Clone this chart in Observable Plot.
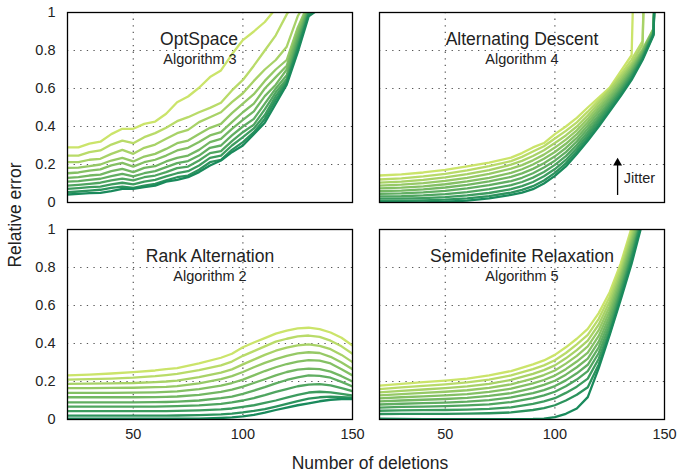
<!DOCTYPE html>
<html>
<head>
<meta charset="utf-8">
<script src="https://cdn.jsdelivr.net/npm/d3@7"></script>
<script src="https://cdn.jsdelivr.net/npm/@observablehq/plot@0.6"></script>
<style>
  html, body { margin: 0; padding: 0; background: #fff; }
  #wrap { position: relative; width: 679px; height: 475px; font-family: "Liberation Sans", Arial, sans-serif; color: #222; }
  .lab { position: absolute; font-size: 17.5px; white-space: nowrap; }
</style>
</head>
<body>
<div id="wrap"></div>
<script>
// ---------------- data ----------------
const jitterLevels = [0, 1, 2, 3, 4, 5, 6, 7, 8, 9, 10];

// OptSpace (Algorithm 3)
const xsOpt = [20,25,30,35,40,45,50,55,60,65,70,75,80,85,90,95,100,105,110,115,120,125,130,135];
const optSpace = [
  [.29,.29,.31,.32,.36,.388,.388,.414,.426,.467,.528,.558,.604,.66,.695,.78,.855,.9,.95,1.02,1.1,1.15,1.2,1.25],
  [.247,.247,.265,.274,.305,.326,.312,.344,.365,.393,.428,.449,.475,.498,.525,.59,.645,.72,.8,.88,.99,1.08,1.12,1.15],
  [.212,.212,.225,.23,.256,.277,.256,.288,.305,.335,.365,.382,.423,.449,.475,.528,.575,.64,.7,.75,.82,.98,1.08,1.12],
  [.182,.184,.191,.2,.221,.235,.216,.242,.256,.282,.312,.326,.361,.393,.414,.47,.52,.57,.64,.7,.75,.92,1.05,1.1],
  [.154,.158,.168,.174,.195,.209,.189,.212,.225,.247,.274,.288,.318,.353,.37,.423,.475,.52,.6,.66,.72,.9,1.04,1.08],
  [.13,.134,.142,.147,.165,.177,.16,.182,.191,.216,.235,.247,.277,.318,.335,.388,.435,.48,.56,.62,.7,.88,1.03,1.07],
  [.11,.113,.119,.125,.139,.151,.137,.154,.165,.186,.207,.218,.247,.288,.3,.353,.4,.44,.52,.6,.67,.86,1.02,1.06],
  [.089,.093,.098,.104,.116,.126,.116,.133,.142,.16,.181,.189,.221,.26,.27,.323,.37,.41,.49,.58,.65,.84,1.01,1.05],
  [.072,.076,.081,.084,.095,.104,.095,.11,.119,.137,.154,.165,.195,.235,.247,.3,.344,.39,.46,.56,.64,.82,1.0,1.04],
  [.054,.058,.063,.067,.077,.084,.077,.089,.098,.116,.133,.142,.172,.212,.225,.277,.318,.37,.44,.54,.63,.81,.99,1.03],
  [.042,.045,.049,.051,.06,.072,.072,.081,.089,.11,.119,.133,.16,.195,.221,.265,.3,.36,.42,.52,.62,.79,.98,1.02]
];

// Alternating Descent (Algorithm 4)
const xsAlt = [20,30,40,50,60,70,80,85,90,95,100,105,110,115,120,125,130,135,140,145,150];
const altDescent = [
  [.142,.148,.158,.172,.19,.21,.236,.26,.29,.313,.36,.4,.445,.5,.552,.605,.69,.775,3,3,3],
  [.121,.127,.137,.151,.169,.191,.218,.24,.268,.296,.337,.377,.422,.478,.538,.597,.673,.752,.85,3,3],
  [.105,.11,.119,.132,.149,.171,.199,.219,.245,.275,.313,.353,.4,.458,.524,.589,.659,.733,.83,3,3],
  [.089,.094,.102,.114,.13,.151,.178,.197,.222,.252,.289,.331,.38,.44,.508,.575,.645,.72,.806,.915,3],
  [.074,.078,.085,.096,.111,.13,.156,.175,.2,.23,.266,.309,.36,.422,.492,.56,.631,.708,.798,.91,3],
  [.06,.063,.069,.079,.093,.111,.135,.153,.177,.207,.243,.287,.34,.405,.476,.546,.618,.697,.79,.905,3],
  [.046,.048,.053,.061,.074,.091,.113,.13,.154,.184,.22,.265,.321,.388,.46,.532,.606,.686,.782,.9,3],
  [.032,.033,.037,.044,.055,.07,.091,.108,.131,.161,.198,.244,.303,.371,.445,.518,.594,.675,.774,.895,3],
  [.02,.02,.023,.028,.037,.05,.07,.086,.108,.138,.176,.224,.286,.355,.43,.505,.583,.665,.766,.89,3],
  [.009,.009,.011,.015,.022,.034,.052,.066,.086,.116,.156,.206,.27,.34,.415,.492,.572,.655,.758,.885,3],
  [0,0,.001,.004,.01,.022,.04,.052,.07,.1,.14,.19,.255,.325,.4,.48,.56,.645,.75,.88,3]
];

// Rank Alternation (Algorithm 2)
const xsRank = [20,30,40,50,60,65,70,80,90,95,100,105,110,115,120,125,130,135,140,145,150];
const rankAlt = [
  [.232,.236,.242,.249,.258,.265,.27,.295,.325,.346,.38,.405,.428,.452,.468,.48,.483,.476,.458,.43,.389],
  [.21,.212,.215,.22,.228,.234,.24,.26,.285,.305,.335,.36,.385,.41,.425,.437,.442,.435,.415,.385,.346],
  [.188,.189,.19,.192,.197,.2,.205,.223,.247,.264,.29,.315,.34,.362,.378,.39,.395,.388,.37,.34,.302],
  [.165,.165,.166,.167,.17,.172,.176,.19,.212,.228,.25,.275,.298,.318,.335,.348,.354,.35,.33,.3,.265],
  [.14,.14,.14,.141,.143,.145,.148,.16,.178,.192,.21,.232,.255,.275,.292,.305,.312,.31,.295,.265,.232],
  [.117,.117,.117,.117,.118,.119,.121,.13,.145,.157,.173,.192,.212,.232,.25,.262,.268,.265,.252,.228,.2],
  [.09,.09,.09,.09,.091,.092,.094,.1,.112,.12,.135,.152,.17,.19,.208,.222,.232,.23,.22,.198,.174],
  [.068,.068,.068,.068,.068,.069,.07,.074,.082,.09,.1,.113,.128,.145,.16,.175,.184,.186,.18,.165,.149],
  [.044,.044,.044,.044,.044,.044,.045,.048,.053,.058,.066,.075,.087,.1,.115,.13,.142,.146,.143,.135,.126],
  [.02,.02,.02,.02,.02,.02,.021,.023,.027,.031,.037,.045,.055,.068,.082,.097,.11,.117,.12,.118,.115],
  [.005,.005,.004,.004,.004,.004,.004,.004,.008,.011,.016,.024,.036,.05,.063,.075,.085,.096,.104,.108,.108]
];

// Semidefinite Relaxation (Algorithm 5)
const xsSdp = [20,30,40,50,60,70,80,90,95,100,105,110,115,120,125,130,135,140];
const sdpRelax = [
  [.178,.188,.197,.205,.215,.232,.255,.29,.311,.34,.38,.425,.477,.56,.67,.82,1.01,1.2],
  [.16,.169,.177,.185,.195,.21,.232,.265,.285,.312,.35,.395,.445,.53,.645,.8,.99,1.18],
  [.143,.151,.158,.165,.174,.188,.208,.24,.26,.285,.322,.365,.415,.5,.62,.78,.97,1.16],
  [.127,.134,.14,.146,.154,.167,.185,.215,.234,.258,.294,.335,.385,.47,.595,.76,.95,1.14],
  [.111,.117,.122,.127,.134,.145,.162,.19,.208,.231,.265,.305,.352,.44,.57,.74,.93,1.12],
  [.095,.1,.104,.108,.114,.124,.139,.165,.182,.204,.236,.275,.32,.41,.545,.72,.91,1.1],
  [.079,.083,.086,.089,.094,.102,.116,.139,.155,.176,.206,.243,.288,.38,.52,.7,.89,1.09],
  [.063,.066,.068,.07,.074,.08,.092,.112,.127,.146,.175,.21,.255,.35,.495,.68,.87,1.08],
  [.046,.048,.049,.05,.052,.056,.064,.082,.095,.112,.14,.173,.215,.32,.47,.665,.855,1.07],
  [.029,.03,.03,.03,.031,.033,.037,.05,.06,.075,.1,.13,.17,.29,.455,.645,.84,1.06],
  [.004,.003,.002,.002,.002,.002,.002,.003,.005,.012,.03,.058,.118,.27,.445,.63,.82,1.04]
];

const titles = ["OptSpace", "Alternating Descent", "Rank Alternation", "Semidefinite Relaxation"];
const subtitles = ["Algorithm 3", "Algorithm 4", "Algorithm 2", "Algorithm 5"];
const cols = ["L", "R", "L", "R"];
const rows = ["T", "T", "B", "B"];

const xTicks = [50, 100, 150];
const yTicks = [0, 0.2, 0.4, 0.6, 0.8, 1];
const xGrid = [50, 100];
const yGrid = [0.2, 0.4, 0.6, 0.8];

// Jitter annotation (in Alternating Descent panel)
const jitterNote = [{col: "R", row: "T", x: 131.4, y: 0.126, text: "Jitter"}];
const jitterArrow = [{col: "R", row: "T", x: 128.6, y1: 0.037, y2: 0.208}];

// ---------------- build table ----------------
const series = [[xsOpt, optSpace], [xsAlt, altDescent], [xsRank, rankAlt], [xsSdp, sdpRelax]];
const table = [];
series.forEach(([xs, lines], p) => {
  lines.forEach((ys, li) => {
    ys.forEach((v, j) => table.push({col: cols[p], row: rows[p], x: xs[j], y: v, level: jitterLevels[li]}));
  });
});
const panelInfo = titles.map((t, i) => ({title: t, sub: subtitles[i], col: cols[i], row: rows[i]}));
const isFirst = d => d.title === titles[0];
const notFirst = d => d.title !== titles[0];

const palette = d3.quantize(d3.interpolateRgb("#cbe46a", "#1a8a5c"), jitterLevels.length);

const titleOpts = {fx: "col", fy: "row", text: "title", frameAnchor: "top", dy: 20, fontSize: 17.5, fill: "#222"};
const subOpts = {fx: "col", fy: "row", text: "sub", frameAnchor: "top", dy: 41, fontSize: 14.5, fill: "#222"};

const chart = Plot.plot({
  width: 679,
  height: 475,
  marginLeft: 67,
  marginRight: 15,
  marginTop: 12,
  marginBottom: 56,
  style: {fontFamily: "Liberation Sans, Arial, sans-serif", fontSize: "14.5px", color: "#222", background: "white"},
  fx: {domain: ["L", "R"], axis: null, paddingInner: 27 / 312, paddingOuter: 0},
  fy: {domain: ["T", "B"], axis: null, paddingInner: 27 / 217, paddingOuter: 0},
  x: {domain: [20, 150], ticks: xTicks, tickSize: 0, tickPadding: 9, label: null},
  y: {domain: [0, 1], ticks: yTicks, tickFormat: d => String(d), tickSize: 0, tickPadding: 12, label: null},
  color: {type: "ordinal", domain: jitterLevels, range: palette},
  marks: [
    Plot.ruleY(yGrid, {stroke: "#555", strokeWidth: 1.2, strokeDasharray: "1.3,5.3"}),
    Plot.ruleX(xGrid, {stroke: "#555", strokeWidth: 1.2, strokeDasharray: "1.3,5.3"}),
    Plot.line(table, {x: "x", y: "y", z: "level", stroke: "level", fx: "col", fy: "row",
      strokeWidth: 2.3, strokeLinejoin: "round", clip: true}),
    Plot.text(panelInfo, {...titleOpts, filter: notFirst}),
    Plot.text(panelInfo, {...titleOpts, filter: isFirst, dx: -11}),
    Plot.text(panelInfo, {...subOpts, filter: notFirst}),
    Plot.text(panelInfo, {...subOpts, filter: isFirst, dx: -10}),
    Plot.ruleX(jitterArrow, {fx: "col", fy: "row", x: "x", y1: "y1", y2: "y2", stroke: "black", strokeWidth: 1.3}),
    Plot.dot(jitterArrow, {fx: "col", fy: "row", x: "x", y: "y2", symbol: "triangle", r: 3.3, fill: "black", stroke: "none"}),
    Plot.text(jitterNote, {fx: "col", fy: "row", x: "x", y: "y", text: "text", textAnchor: "start", fontSize: 14.5, fill: "#222"}),
    Plot.frame({stroke: "black", strokeWidth: 1.3})
  ]
});

const wrap = document.getElementById("wrap");
wrap.appendChild(chart);

const ylab = document.createElement("div");
ylab.className = "lab";
ylab.textContent = "Relative error";
ylab.style.left = "15px";
ylab.style.top = "215px";
ylab.style.transform = "translate(-50%, -50%) rotate(-90deg)";
wrap.appendChild(ylab);

const xlab = document.createElement("div");
xlab.className = "lab";
xlab.textContent = "Number of deletions";
xlab.style.left = "370px";
xlab.style.top = "463px";
xlab.style.transform = "translate(-50%, -50%)";
wrap.appendChild(xlab);
</script>
</body>
</html>
